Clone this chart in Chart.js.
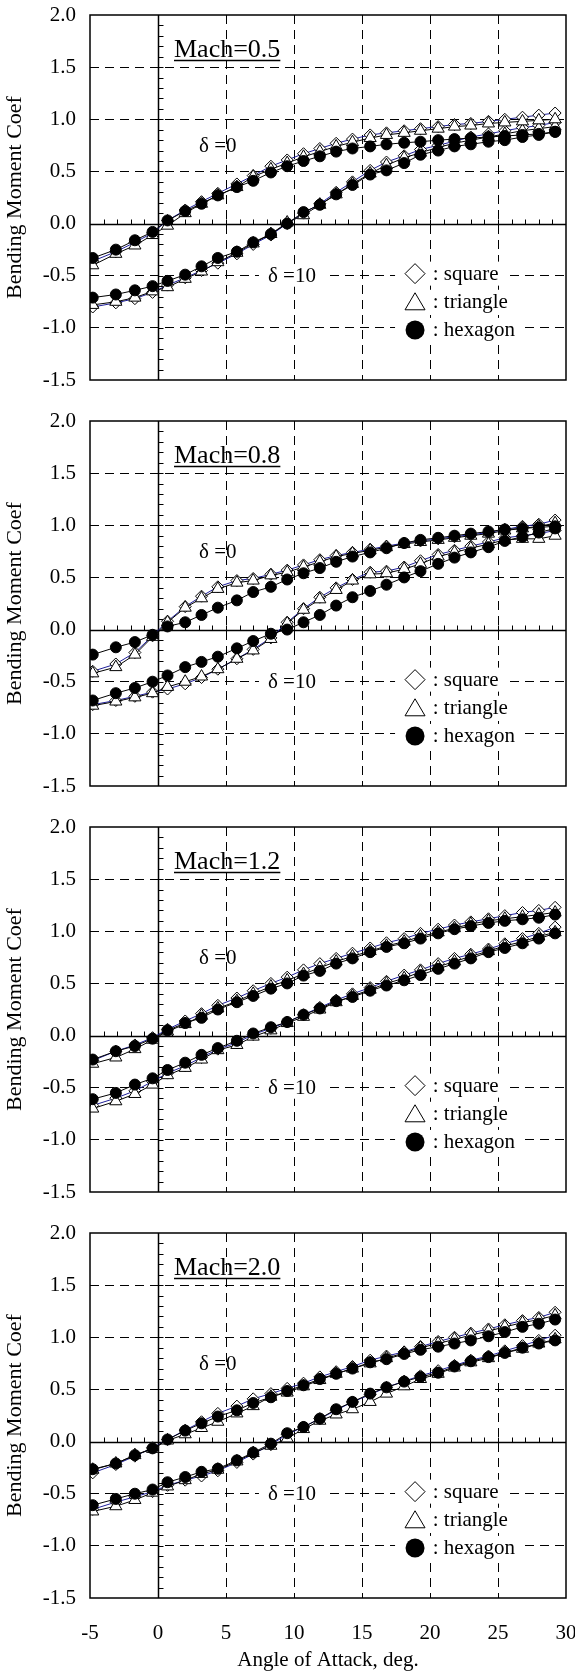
<!DOCTYPE html>
<html>
<head>
<meta charset="utf-8">
<title>Bending Moment Coef</title>
<script src="https://cdn.jsdelivr.net/npm/chart.js"></script>
<style>
    body { margin: 0; background: #fff; }
    #wrap { position: relative; width: 575px; height: 1675px; }
    #wrap canvas { position: absolute; left: 0; }
</style>
</head>
<body>
<div id="wrap">
    <canvas id="c0"></canvas>
    <canvas id="c1"></canvas>
    <canvas id="c2"></canvas>
    <canvas id="c3"></canvas>
</div>

<script>
// angle of attack of the measured points (deg)
const alpha = [-4.8, -3.1, -1.7, -0.4, 0.7, 2.0, 3.2, 4.4, 5.8, 7.0, 8.3, 9.5, 10.7, 11.9,
               13.1, 14.3, 15.6, 16.8, 18.1, 19.3, 20.6, 21.8, 23.0, 24.3, 25.5, 26.8, 28.0, 29.2];

const xTickValues = [-5, 0, 5, 10, 15, 20, 25, 30];
const yTickValues = [-1.5, -1.0, -0.5, 0.0, 0.5, 1.0, 1.5, 2.0];
const machLabels = ['0.5', '0.8', '1.2', '2.0'];
const finNames = ['square', 'triangle', 'hexagon'];

// Mach 0.5
const sq0_m05  = [-0.36, -0.27, -0.18, -0.09, 0.03, 0.13, 0.21, 0.29, 0.38, 0.46, 0.55, 0.61, 0.67, 0.72, 0.77, 0.81, 0.85, 0.87, 0.89, 0.91, 0.93, 0.95, 0.96, 0.98, 1.00, 1.02, 1.04, 1.06];
const tri0_m05 = [-0.40, -0.29, -0.21, -0.11, -0.02, 0.10, 0.19, 0.27, 0.35, 0.45, 0.52, 0.58, 0.64, 0.69, 0.74, 0.78, 0.82, 0.85, 0.87, 0.89, 0.91, 0.93, 0.94, 0.96, 0.97, 0.98, 0.99, 1.00];
const hex0_m05 = [-0.33, -0.25, -0.16, -0.08, 0.03, 0.12, 0.19, 0.27, 0.35, 0.41, 0.49, 0.55, 0.60, 0.645, 0.69, 0.72, 0.74, 0.76, 0.775, 0.785, 0.80, 0.81, 0.82, 0.83, 0.84, 0.85, 0.86, 0.88];
const sq10_m05  = [-0.80, -0.76, -0.72, -0.66, -0.59, -0.52, -0.45, -0.38, -0.29, -0.20, -0.11, 0.00, 0.10, 0.19, 0.30, 0.40, 0.51, 0.59, 0.65, 0.71, 0.75, 0.79, 0.83, 0.86, 0.89, 0.92, 0.94, 0.97];
const tri10_m05 = [-0.78, -0.75, -0.71, -0.65, -0.61, -0.53, -0.46, -0.37, -0.28, -0.19, -0.10, 0.01, 0.08, 0.18, 0.28, 0.38, 0.48, 0.56, 0.63, 0.68, 0.73, 0.77, 0.80, 0.83, 0.86, 0.89, 0.91, 0.93];
const hex10_m05 = [-0.71, -0.68, -0.64, -0.60, -0.55, -0.49, -0.41, -0.33, -0.27, -0.18, -0.10, 0.00, 0.11, 0.18, 0.28, 0.37, 0.47, 0.51, 0.58, 0.66, 0.70, 0.74, 0.76, 0.785, 0.80, 0.83, 0.85, 0.88];

// Mach 0.8
const sq0_m08  = [-0.40, -0.33, -0.22, -0.06, 0.08, 0.22, 0.32, 0.41, 0.47, 0.49, 0.53, 0.57, 0.62, 0.67, 0.71, 0.74, 0.77, 0.80, 0.83, 0.85, 0.87, 0.89, 0.91, 0.93, 0.96, 0.99, 1.01, 1.05];
const tri0_m08 = [-0.42, -0.36, -0.24, -0.07, 0.07, 0.21, 0.30, 0.39, 0.45, 0.47, 0.52, 0.55, 0.60, 0.65, 0.70, 0.73, 0.76, 0.79, 0.82, 0.84, 0.86, 0.88, 0.90, 0.92, 0.95, 0.97, 0.99, 1.02];
const hex0_m08 = [-0.24, -0.17, -0.12, -0.05, 0.03, 0.07, 0.14, 0.21, 0.28, 0.36, 0.41, 0.48, 0.54, 0.59, 0.65, 0.70, 0.74, 0.78, 0.83, 0.86, 0.88, 0.90, 0.92, 0.94, 0.96, 0.97, 0.98, 0.99];
const sq10_m08  = [-0.72, -0.68, -0.64, -0.60, -0.57, -0.52, -0.46, -0.38, -0.28, -0.19, -0.08, 0.07, 0.20, 0.31, 0.40, 0.48, 0.55, 0.56, 0.60, 0.66, 0.72, 0.76, 0.80, 0.84, 0.88, 0.90, 0.92, 0.95];
const tri10_m08 = [-0.73, -0.69, -0.65, -0.61, -0.55, -0.50, -0.45, -0.38, -0.28, -0.20, -0.09, 0.06, 0.19, 0.29, 0.38, 0.47, 0.53, 0.54, 0.58, 0.63, 0.70, 0.74, 0.78, 0.82, 0.86, 0.87, 0.87, 0.90];
const hex10_m08 = [-0.68, -0.61, -0.56, -0.50, -0.44, -0.36, -0.31, -0.26, -0.18, -0.11, -0.04, 0.00, 0.07, 0.14, 0.23, 0.31, 0.37, 0.43, 0.50, 0.56, 0.63, 0.69, 0.74, 0.79, 0.85, 0.89, 0.93, 0.97];

// Mach 1.2
const sq0_m12  = [-0.24, -0.15, -0.09, -0.02, 0.06, 0.14, 0.21, 0.29, 0.36, 0.43, 0.50, 0.56, 0.63, 0.69, 0.74, 0.79, 0.84, 0.89, 0.93, 0.98, 1.02, 1.06, 1.09, 1.12, 1.15, 1.18, 1.20, 1.23];
const tri0_m12 = [-0.27, -0.21, -0.13, -0.04, 0.04, 0.11, 0.19, 0.26, 0.33, 0.40, 0.47, 0.53, 0.59, 0.65, 0.71, 0.76, 0.81, 0.86, 0.90, 0.95, 0.99, 1.03, 1.07, 1.10, 1.12, 1.14, 1.16, 1.18];
const hex0_m12 = [-0.23, -0.15, -0.10, -0.03, 0.05, 0.12, 0.17, 0.25, 0.32, 0.38, 0.45, 0.50, 0.575, 0.62, 0.69, 0.74, 0.80, 0.85, 0.885, 0.93, 0.98, 1.02, 1.05, 1.08, 1.10, 1.115, 1.13, 1.16];
const sq10_m12  = [-0.67, -0.60, -0.53, -0.44, -0.36, -0.29, -0.21, -0.13, -0.07, 0.01, 0.07, 0.13, 0.20, 0.27, 0.34, 0.40, 0.46, 0.52, 0.58, 0.63, 0.69, 0.74, 0.78, 0.83, 0.88, 0.93, 0.98, 1.04];
const tri10_m12 = [-0.70, -0.63, -0.56, -0.47, -0.38, -0.31, -0.23, -0.14, -0.09, -0.01, 0.05, 0.12, 0.18, 0.25, 0.32, 0.38, 0.44, 0.50, 0.55, 0.61, 0.66, 0.71, 0.76, 0.81, 0.86, 0.90, 0.95, 0.99];
const hex10_m12 = [-0.61, -0.55, -0.47, -0.41, -0.33, -0.26, -0.185, -0.12, -0.05, 0.02, 0.08, 0.13, 0.20, 0.26, 0.33, 0.37, 0.43, 0.48, 0.53, 0.58, 0.64, 0.69, 0.74, 0.80, 0.84, 0.885, 0.93, 0.98];

// Mach 2.0
const sq0_m20  = [-0.30, -0.22, -0.14, -0.06, 0.02, 0.11, 0.19, 0.27, 0.34, 0.41, 0.46, 0.51, 0.56, 0.62, 0.67, 0.72, 0.78, 0.82, 0.86, 0.91, 0.96, 1.00, 1.04, 1.08, 1.12, 1.16, 1.19, 1.24];
const tri0_m20 = [-0.27, -0.21, -0.13, -0.07, 0.01, 0.07, 0.13, 0.19, 0.27, 0.34, 0.43, 0.47, 0.53, 0.59, 0.65, 0.70, 0.75, 0.80, 0.85, 0.90, 0.94, 0.98, 1.02, 1.06, 1.10, 1.14, 1.17, 1.21];
const hex0_m20 = [-0.265, -0.21, -0.13, -0.065, 0.02, 0.105, 0.175, 0.24, 0.30, 0.37, 0.425, 0.485, 0.54, 0.60, 0.65, 0.70, 0.76, 0.79, 0.84, 0.88, 0.91, 0.94, 0.97, 1.01, 1.05, 1.10, 1.13, 1.17];
const sq10_m20  = [-0.65, -0.58, -0.53, -0.48, -0.42, -0.37, -0.33, -0.28, -0.20, -0.12, -0.03, 0.07, 0.14, 0.22, 0.30, 0.38, 0.45, 0.52, 0.58, 0.63, 0.68, 0.73, 0.78, 0.82, 0.87, 0.92, 0.97, 1.02];
const tri10_m20 = [-0.67, -0.62, -0.56, -0.49, -0.43, -0.37, -0.31, -0.27, -0.19, -0.11, -0.04, 0.03, 0.12, 0.20, 0.26, 0.31, 0.38, 0.46, 0.53, 0.60, 0.65, 0.71, 0.76, 0.80, 0.85, 0.89, 0.94, 0.98];
const hex10_m20 = [-0.61, -0.55, -0.50, -0.46, -0.39, -0.34, -0.29, -0.26, -0.18, -0.105, -0.02, 0.08, 0.14, 0.22, 0.31, 0.38, 0.46, 0.52, 0.575, 0.62, 0.66, 0.72, 0.77, 0.81, 0.85, 0.90, 0.94, 0.97];

const panels = [
    { sq: [sq0_m05, sq10_m05], tri: [tri0_m05, tri10_m05], hex: [hex0_m05, hex10_m05] },
    { sq: [sq0_m08, sq10_m08], tri: [tri0_m08, tri10_m08], hex: [hex0_m08, hex10_m08] },
    { sq: [sq0_m12, sq10_m12], tri: [tri0_m12, tri10_m12], hex: [hex0_m12, hex10_m12] },
    { sq: [sq0_m20, sq10_m20], tri: [tri0_m20, tri10_m20], hex: [hex0_m20, hex10_m20] }
];

const serif = '"Liberation Serif", "Times New Roman", serif';
const panelTops = [15, 421, 827, 1233];

function pts(ys) {
    return ys.map((v, i) => ({ x: alpha[i], y: v }));
}

function gridColor(v, skip) {
    return skip.includes(v) ? 'rgba(0,0,0,0)' : '#000';
}

// diamond / triangle / dot used in the in-plot key
function keySymbol(ctx, kind, cx, cy) {
    ctx.beginPath();
    if (kind === 0) {
        ctx.moveTo(cx, cy - 10); ctx.lineTo(cx + 10, cy); ctx.lineTo(cx, cy + 10); ctx.lineTo(cx - 10, cy);
        ctx.closePath();
        ctx.fillStyle = '#fff'; ctx.fill(); ctx.stroke();
    } else if (kind === 1) {
        ctx.moveTo(cx, cy - 9); ctx.lineTo(cx + 10, cy + 8); ctx.lineTo(cx - 10, cy + 8);
        ctx.closePath();
        ctx.fillStyle = '#fff'; ctx.fill(); ctx.stroke();
    } else {
        ctx.arc(cx, cy, 9.5, 0, Math.PI * 2);
        ctx.fillStyle = '#000'; ctx.fill();
    }
}

function decor(mach) {
    return {
        id: 'decor',
        beforeDatasetsDraw(chart) {
            const { ctx, chartArea: a, scales: { x, y } } = chart;
            const x0 = Math.round(x.getPixelForValue(0)) + 0.5;
            const y0 = Math.round(y.getPixelForValue(0)) + 0.5;
            ctx.save();
            ctx.strokeStyle = '#000';

            // solid zero lines
            ctx.lineWidth = 1.5;
            ctx.beginPath();
            ctx.moveTo(x0, a.top); ctx.lineTo(x0, a.bottom);
            ctx.moveTo(a.left, y0); ctx.lineTo(a.right, y0);
            ctx.stroke();

            // minor ticks on the zero lines
            ctx.lineWidth = 1;
            ctx.beginPath();
            for (let d = -4; d < 30; d++) {
                const px = Math.round(x.getPixelForValue(d)) + 0.5;
                ctx.moveTo(px, y0); ctx.lineTo(px, y0 - 5);
            }
            for (let k = -14; k < 20; k++) {
                if (k === 0) continue;
                const py = Math.round(y.getPixelForValue(k / 10)) + 0.5;
                ctx.moveTo(x0, py); ctx.lineTo(x0 + 5, py);
            }
            ctx.stroke();

            // Mach label, underlined
            ctx.fillStyle = '#000';
            ctx.font = '26px ' + serif;
            ctx.textAlign = 'left';
            ctx.textBaseline = 'alphabetic';
            const label = 'Mach=' + mach;
            const mx = a.left + 84, my = a.top + 42;
            ctx.fillText(label, mx, my);
            const mw = ctx.measureText(label).width;
            ctx.lineWidth = 1.5;
            ctx.beginPath(); ctx.moveTo(mx, my + 3.5); ctx.lineTo(mx + mw, my + 3.5); ctx.stroke();

            // delta labels
            ctx.font = '21px ' + serif;
            ctx.textAlign = 'center';
            ctx.textBaseline = 'middle';
            ctx.fillText('δ =0', x.getPixelForValue(4.4), y.getPixelForValue(0.74));
            const dx = x.getPixelForValue(9.85), dy = y.getPixelForValue(-0.5);
            const dw = ctx.measureText('δ =10').width;
            ctx.fillStyle = '#fff';
            ctx.fillRect(dx - dw / 2 - 9, dy - 11, dw + 18, 22);
            ctx.fillStyle = '#000';
            ctx.fillText('δ =10', dx, dy + 1);

            // key
            ctx.font = '21px ' + serif;
            ctx.textAlign = 'left';
            const rows = [-0.48, -0.75, -1.02];
            const sx = x.getPixelForValue(18.9), tx = x.getPixelForValue(20.2);
            rows.forEach((rv, i) => {
                const ry = y.getPixelForValue(rv);
                const txt = ': ' + finNames[i];
                const tw = ctx.measureText(txt).width;
                ctx.fillStyle = '#fff';
                ctx.fillRect(sx - 20, ry - 12, tx + tw - sx + 28, 24);
                ctx.lineWidth = 1;
                ctx.strokeStyle = '#000';
                keySymbol(ctx, i, sx, ry);
                ctx.fillStyle = '#000';
                ctx.fillText(txt, tx, ry + 1);
            });
            ctx.restore();
        },
        afterDatasetsDraw(chart) {
            const { ctx, chartArea: a } = chart;
            ctx.save();
            ctx.strokeStyle = '#000';
            ctx.lineWidth = 1.5;
            ctx.strokeRect(a.left, a.top, a.right - a.left, a.bottom - a.top);
            ctx.restore();
        }
    };
}

function makePanel(i) {
    const p = panels[i];
    const isLast = i === panels.length - 1;
    const canvas = document.getElementById('c' + i);
    const h = isLast ? 1675 - (panelTops[i] - 15) : 406;
    canvas.width = 575;
    canvas.height = h;
    canvas.style.top = (panelTops[i] - 15) + 'px';
    canvas.style.width = '575px';
    canvas.style.height = h + 'px';

    const datasets = [];
    for (let d = 0; d < 2; d++) {
        datasets.push({
            label: 'hexagon', data: pts(p.hex[d]), showLine: true,
            borderColor: '#000', borderWidth: 1,
            pointStyle: 'circle', pointRadius: 5.5,
            pointBackgroundColor: '#000', pointBorderColor: '#000', pointBorderWidth: 1
        });
    }
    for (let d = 0; d < 2; d++) {
        datasets.push({
            label: 'triangle', data: pts(p.tri[d]), showLine: true,
            borderColor: '#000', borderWidth: 1,
            pointStyle: 'triangle', pointRadius: 7,
            pointBackgroundColor: '#fff', pointBorderColor: '#000', pointBorderWidth: 1
        });
    }
    for (let d = 0; d < 2; d++) {
        datasets.push({
            label: 'square', data: pts(p.sq[d]), showLine: true,
            borderColor: '#1f1f9a', borderWidth: 1,
            pointStyle: 'rectRot', pointRadius: 6,
            pointBackgroundColor: '#fff', pointBorderColor: '#000', pointBorderWidth: 1
        });
    }

    new Chart(canvas.getContext('2d'), {
        type: 'scatter',
        data: { datasets: datasets },
        options: {
            responsive: false,
            animation: false,
            devicePixelRatio: 1,
            layout: { padding: { top: 15, right: 9, left: 0, bottom: 0 } },
            plugins: { legend: { display: false }, tooltip: { enabled: false } },
            scales: {
                x: {
                    type: 'linear', min: -5, max: 30,
                    afterBuildTicks: s => { s.ticks = xTickValues.map(v => ({ value: v })); },
                    afterFit: s => { s.height = isLast ? 77 : 26; s.paddingLeft = 0; s.paddingRight = 0; },
                    grid: { drawTicks: false, lineWidth: 1, color: c => gridColor(c.tick.value, [-5, 0, 30]) },
                    border: { display: false, dash: [9, 6] },
                    ticks: { display: isLast, padding: 23, maxRotation: 0, color: '#000', font: { family: serif, size: 21 } },
                    title: {
                        display: isLast, text: 'Angle of Attack, deg.', color: '#000',
                        font: { family: serif, size: 21 }, padding: { top: 0, bottom: 2 }
                    }
                },
                y: {
                    type: 'linear', min: -1.5, max: 2.0,
                    afterBuildTicks: s => { s.ticks = yTickValues.map(v => ({ value: v })); },
                    afterFit: s => { s.width = 90; s.paddingTop = 0; s.paddingBottom = 0; },
                    grid: { drawTicks: false, lineWidth: 1, color: c => gridColor(c.tick.value, [-1.5, 0, 2]) },
                    border: { display: false, dash: [9, 6] },
                    ticks: { padding: 14, color: '#000', font: { family: serif, size: 21 }, callback: v => v.toFixed(1) },
                    title: {
                        display: true, text: 'Bending Moment Coef', color: '#000',
                        font: { family: serif, size: 22 }, padding: { top: 2, bottom: 0 }
                    }
                }
            }
        },
        plugins: [decor(machLabels[i])]
    });
}

for (let i = 0; i < panels.length; i++) makePanel(i);
</script>
</body>
</html>
